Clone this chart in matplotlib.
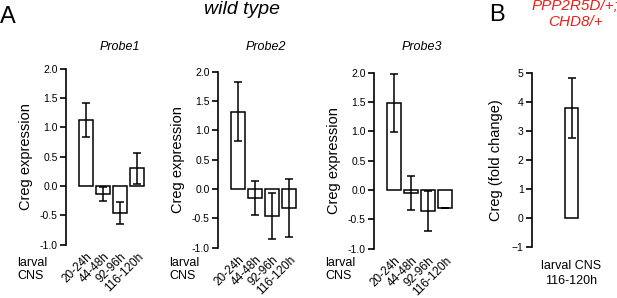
import numpy as np
import matplotlib.pyplot as plt

# Data
stages = ['20-24h', '44-48h', '92-96h', '116-120h']
probe1 = [1.13, -0.13, -0.46, 0.30]
probe1_err = [0.29, 0.12, 0.19, 0.27]
probe2 = [1.32, -0.15, -0.46, -0.32]
probe2_err = [0.51, 0.29, 0.40, 0.49]
probe3 = [1.48, -0.05, -0.35, -0.30]
probe3_err = [0.50, 0.29, 0.34, 0.0]
probe_names = ['Probe1', 'Probe2', 'Probe3']

mutant = [3.8]
mutant_err = [1.03]

W, H = 617, 298
fig = plt.figure(figsize=(W / 100, H / 100), dpi=100)
plt.rcParams['font.family'] = ['Liberation Sans', 'DejaVu Sans']


def px_axes(x0, y_top, w, h):
    # pixel box -> figure fraction
    return fig.add_axes([x0 / W, (H - y_top - h) / H, w / W, h / H])


def style(ax, lo, hi):
    for s in ['top', 'right', 'bottom']:
        ax.spines[s].set_visible(False)
    ax.spines['left'].set_bounds(lo, hi)
    ax.spines['left'].set_linewidth(1.2)
    ax.tick_params(axis='y', length=4, width=1.2, labelsize=7.5, pad=2)
    ax.tick_params(axis='x', length=0, labelsize=8.5, pad=0)


panels = [(66, 186, probe1, probe1_err), (218, 189, probe2, probe2_err),
          (374, 190, probe3, probe3_err)]
title_x = [120, 266, 422]
unit_y = 58.7
unit_x = 17.0
xlo, xhi = -1.2, 3.5
ylo, yhi = -1.1, 2.1

for i, (sx, zero_y, vals, errs) in enumerate(panels):
    top = zero_y - yhi * unit_y
    ax = px_axes(sx, top, (xhi - xlo) * unit_x, (yhi - ylo) * unit_y)
    x = np.arange(len(vals))
    ax.bar(x, vals, width=0.82, color='white', edgecolor='black', linewidth=1.1)
    ax.errorbar(x, vals, yerr=errs, fmt='none', ecolor='black', elinewidth=1.1,
                capsize=3, capthick=1.1)
    ax.set_xlim(xlo, xhi)
    ax.set_ylim(ylo, yhi)
    style(ax, -1.0, 2.0)
    ax.set_yticks([-1.0, -0.5, 0.0, 0.5, 1.0, 1.5, 2.0])
    ax.set_yticklabels(['-1.0', '-0.5', '0.0', '0.5', '1.0', '1.5', '2.0'])
    ax.set_xticks(x)
    ax.set_xticklabels(stages, rotation=45, ha='right', va='top',
                       rotation_mode='anchor')
    ax.set_ylabel('Creg expression', fontsize=10.5, labelpad=5)
    fig.text(title_x[i] / W, 1 - 47 / H, probe_names[i], fontsize=9,
             style='italic', ha='center', va='center')
    fig.text((sx - 49) / W, 1 - 257 / H, 'larval\nCNS', fontsize=9,
             ha='left', va='top', linespacing=1.15)

# panel B
unit_yb = 29.0
zero_b = 218.3
ylo_b, yhi_b = -1.2, 5.2
unit_xb = 16.5
xlo_b, xhi_b = -2.4, 1.0
axb = px_axes(532, zero_b - yhi_b * unit_yb, (xhi_b - xlo_b) * unit_xb,
              (yhi_b - ylo_b) * unit_yb)
axb.bar([0], mutant, width=0.8, color='white', edgecolor='black', linewidth=1.1)
axb.errorbar([0], mutant, yerr=mutant_err, fmt='none', ecolor='black',
             elinewidth=1.1, capsize=3, capthick=1.1)
axb.set_xlim(xlo_b, xhi_b)
axb.set_ylim(ylo_b, yhi_b)
style(axb, -1, 5)
axb.set_yticks([-1, 0, 1, 2, 3, 4, 5])
axb.set_xticks([])
axb.set_ylabel('Creg (fold change)', fontsize=10.5, labelpad=6)
fig.text(571 / W, 1 - 260 / H, 'larval CNS\n116-120h', fontsize=9,
         ha='center', va='top', linespacing=1.35)

# headings
fig.text(242 / W, 1 - 1 / H, 'wild type', fontsize=14, style='italic',
         ha='center', va='top')
fig.text(0 / W, 1 - 6 / H, 'A', fontsize=17, ha='left', va='top')
fig.text(489 / W, 1 - 4 / H, 'B', fontsize=17, ha='left', va='top')
fig.text(575 / W, 1 + 1 / H, 'PPP2R5D/+;\nCHD8/+', fontsize=11,
         style='italic', color='#e8221a', ha='center', va='top',
         linespacing=1.15)

fig.savefig('out.png', dpi=100)
